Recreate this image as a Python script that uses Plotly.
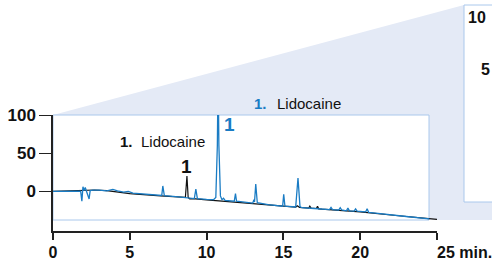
import plotly.graph_objects as go

# ---- data ----
blue_t = [0, 1.0, 1.8, 1.88, 1.95, 2.02, 2.1, 2.18, 2.35, 2.42, 2.6, 3.0, 3.5, 3.9, 4.2, 4.6, 4.9,
          5.2, 6.0, 7.0, 7.08, 7.15, 7.25, 8.0, 8.6, 9.2, 9.3, 9.4, 10.0, 10.45, 10.6, 10.7, 10.75,
          10.8, 10.9, 11.0, 11.1, 11.2, 11.8, 11.88, 11.95, 12.5, 13.0, 13.08, 13.12, 13.2, 13.3,
          14.0, 14.95, 15.02, 15.1, 15.8, 15.95, 16.08, 16.2, 17.0, 18.0, 18.1, 18.2, 18.6, 18.7,
          18.8, 19.1, 19.2, 19.3, 19.6, 19.7, 19.8, 20.35, 20.45, 20.55, 21.0, 22.0, 23.0, 24.5]
blue_y = [0, 0, 0.3, -13, 6, 1, 5, 0, -10, 1, 1.5, 1.5, 0.5, 2.5, 0.5, -1, 0,
          -2.5, -4, -5.5, -5.5, 7, -5.8, -7, -8.5, -9.5, 3, -9.5, -10.5, -11, -8, 60, 160,
          60, -6, -11, -9, -12, -13, -3, -13, -14.5, -15.5, -11, -14, 9.5, -15,
          -17.5, -19.5, -4, -19.5, -20.5, 17.5, -20, -21.5, -22.5, -24, -21, -24, -24.5, -21.5,
          -24.5, -25.5, -22, -25.5, -26, -23, -26, -27, -23, -27.5, -28.5, -31, -33, -36]

black_t = [0, 1.8, 2.7, 3.5, 5, 7, 8.5, 8.62, 8.72, 8.8, 8.9, 9.1, 10, 12.5, 15, 15.8, 15.9,
           16.05, 16.65, 16.72, 16.8, 17.15, 17.22, 17.3, 17.5, 20, 22.5, 25]
black_y = [0, 0.5, 1.7, 0.8, -3, -6, -8.5, -8, 20, -8, -10, -9.5, -11.2, -15.5, -20, -20.8, -19,
           -21, -22, -19.5, -22, -22.5, -19.5, -23, -23.4, -27, -32, -36.7]

x_ticks = [0, 5, 10, 15, 20, 25]
x_tick_text = ["0", "5", "10", "15", "20", ""]
y_ticks = [0, 50, 100]
y_tick_text = ["0", "50", "100"]

BLUE = "#1a7cc4"
SHADE = "#e4eaf6"
BORDER = "#aac8ec"
AXIS = "#222222"
FONT = "Liberation Sans, Arial, sans-serif"

W, H = 492, 261
L, R, T, B = 53, 55, 115, 30
pw, ph = W - L - R, H - T - B


def px(x):
    return (x - L) / pw


def py(y):
    return (H - B - y) / ph


fig = go.Figure()
fig.add_trace(go.Scatter(x=black_t, y=black_y, mode="lines",
                         line=dict(color="#111111", width=1.2), hoverinfo="skip"))
fig.add_trace(go.Scatter(x=blue_t, y=blue_y, mode="lines",
                         line=dict(color=BLUE, width=1.3), hoverinfo="skip"))

shapes = [
    dict(type="path", xref="paper", yref="paper", layer="below",
         path=f"M {px(53)} {py(115)} L {px(464)} {py(5)} L {px(520)} {py(5)} "
              f"L {px(520)} {py(220)} L {px(53)} {py(220)} Z",
         fillcolor=SHADE, line=dict(width=0)),
    dict(type="rect", xref="paper", yref="paper", layer="below",
         x0=px(53), x1=px(429), y0=py(220), y1=py(115),
         fillcolor="white", line=dict(color=BORDER, width=1)),
    dict(type="rect", xref="paper", yref="paper", layer="below",
         x0=px(464), x1=px(530), y0=py(202), y1=py(5),
         fillcolor="white", line=dict(color=BORDER, width=1)),
]

ann = [
    dict(x=px(118), y=py(141), text="<b>1.</b>", font=dict(size=15, color="#111111"), xanchor="left"),
    dict(x=px(139), y=py(141), text="Lidocaine", font=dict(size=15, color="#111111"), xanchor="left"),
    dict(x=px(186), y=py(166), text="<b>1</b>", font=dict(size=19, color="#111111"), xanchor="center"),
    dict(x=px(252), y=py(103), text="<b>1.</b>", font=dict(size=15, color=BLUE), xanchor="left"),
    dict(x=px(275), y=py(103), text="Lidocaine", font=dict(size=15, color="#111111"), xanchor="left"),
    dict(x=px(222), y=py(124), text="<b>1</b>", font=dict(size=19, color=BLUE), xanchor="left"),
    dict(x=px(435), y=py(252), text="<b>25 min.</b>", font=dict(size=16, color="#111111"), xanchor="left"),
    dict(x=px(466), y=py(17), text="<b>10</b>", font=dict(size=16, color="#111111"), xanchor="left"),
    dict(x=px(479), y=py(69), text="<b>5</b>", font=dict(size=16, color="#111111"), xanchor="left"),
]
for a in ann:
    a.update(xref="paper", yref="paper", showarrow=False, yanchor="middle")

fig.update_layout(
    template="none",
    width=W, height=H,
    margin=dict(l=L, r=R, t=T, b=B, pad=0, autoexpand=False),
    paper_bgcolor="white", plot_bgcolor="rgba(0,0,0,0)",
    showlegend=False,
    font=dict(family=FONT, color="#111111"),
    shapes=shapes, annotations=ann,
    xaxis=dict(range=[0, 25], automargin=False, showgrid=False, zeroline=False, showline=True,
               linecolor=AXIS, linewidth=1.5, ticks="outside", ticklen=7, tickwidth=1.5,
               tickcolor=AXIS, tickvals=x_ticks, ticktext=x_tick_text, ticklabelstandoff=-1,
               tickfont=dict(size=16, family=FONT, weight="bold", color="#111111")),
    yaxis=dict(range=[-52, 100], automargin=False, showgrid=False, zeroline=False, showline=True,
               linecolor=AXIS, linewidth=1.5, ticks="outside", ticklen=12, tickwidth=1.2,
               tickcolor=AXIS, tickvals=y_ticks, ticktext=y_tick_text,
               tickfont=dict(size=17, family=FONT, weight="bold", color="#111111")),
)

fig.write_html("out.html", config={"displayModeBar": False},
               post_script="document.body.style.margin='0';document.body.style.overflow='hidden';")
